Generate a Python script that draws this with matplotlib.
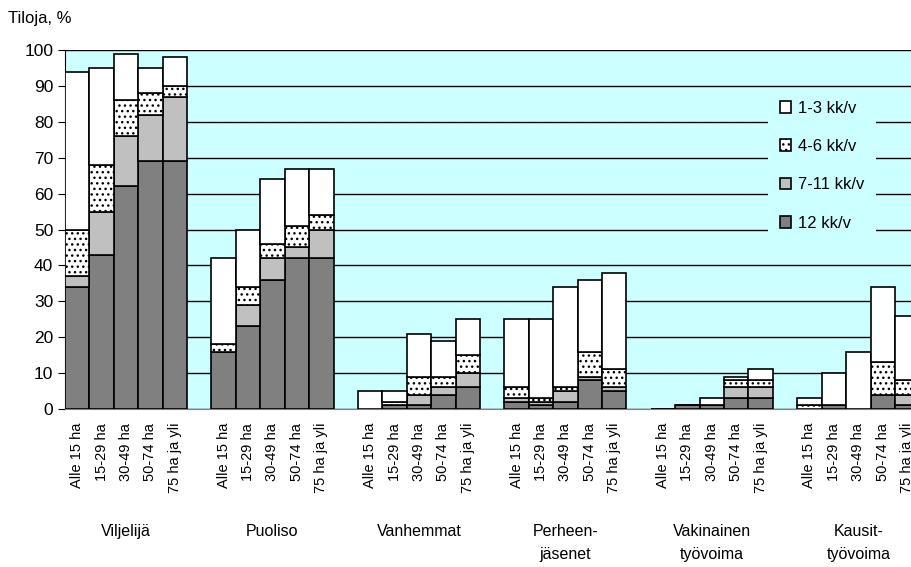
import matplotlib.pyplot as plt

plt.rcParams['font.family'] = ['Liberation Sans', 'DejaVu Sans']
plt.rcParams['hatch.linewidth'] = 1.0

ryhmat = ['Viljelijä', 'Puoliso', 'Vanhemmat', 'Perheen-\njäsenet',
          'Vakinainen\ntyövoima', 'Kausit-\ntyövoima']
koot = ['Alle 15 ha', '15-29 ha', '30-49 ha', '50-74 ha', '75 ha ja yli']

# arvot ryhmittain, 5 tilakokoluokkaa kussakin
kk12 = [34, 43, 62, 69, 69,
        16, 23, 36, 42, 42,
        0, 1, 1, 4, 6,
        2, 1, 2, 8, 5,
        0, 1, 1, 3, 3,
        0, 1, 0, 4, 1]
kk7_11 = [3, 12, 14, 13, 18,
          0, 6, 6, 3, 8,
          0, 0, 3, 2, 4,
          1, 1, 3, 1, 1,
          0, 0, 0, 3, 3,
          0, 0, 0, 0, 3]
kk4_6 = [13, 13, 10, 6, 3,
         2, 5, 4, 6, 4,
         0, 1, 5, 3, 5,
         3, 1, 1, 7, 5,
         0, 0, 0, 2, 2,
         1, 0, 0, 9, 4]
kk1_3 = [44, 27, 13, 7, 8,
         24, 16, 18, 16, 13,
         5, 3, 12, 10, 10,
         19, 22, 28, 20, 27,
         0, 0, 2, 1, 3,
         2, 9, 16, 21, 18]

# x-paikat: 5 pylvästä ja yksi väli ryhmien välissä
x = []
for g in range(len(ryhmat)):
    for b in range(len(koot)):
        x.append(g * 6 + b)

fig = plt.figure(figsize=(9.12, 5.67), dpi=100)
ax = fig.add_axes([0.0713, 0.2787, 0.9287, 0.633])
ax.set_facecolor('#CCFFFF')

pohja = [0] * len(x)
sarjat = [(kk12, '12 kk/v', '#808080', None),
          (kk7_11, '7-11 kk/v', '#C0C0C0', None),
          (kk4_6, '4-6 kk/v', 'white', '...'),
          (kk1_3, '1-3 kk/v', 'white', None)]
kahvat = []
for arvot, nimi, vari, hatch in sarjat:
    b = ax.bar(x, arvot, width=1.0, bottom=pohja, color=vari, edgecolor='black',
               linewidth=1.2, hatch=hatch, label=nimi, zorder=3)
    kahvat.append(b)
    pohja = [p + a for p, a in zip(pohja, arvot)]

ax.set_ylim(0, 100)
ax.set_xlim(-0.5, 34.2)
ax.set_yticks(range(0, 101, 10))
ax.yaxis.grid(True, color='black', linewidth=1.0, zorder=0)
ax.tick_params(axis='y', labelsize=12.5, length=5, direction='out')
ax.set_xticks(x)
ax.set_xticklabels(koot * len(ryhmat), rotation=90, fontsize=10.5)
ax.tick_params(axis='x', length=0, pad=10)
for s in ['top', 'right']:
    ax.spines[s].set_visible(False)
ax.spines['bottom'].set_color('#808080')

for g, nimi in enumerate(ryhmat):
    ax.text(g * 6 + 2, -0.32, nimi, transform=ax.get_xaxis_transform(),
            ha='center', va='top', fontsize=11.5, linespacing=1.65)

fig.text(0.009, 0.968, 'Tiloja, %', fontsize=12, va='center')

leg = ax.legend(handles=kahvat[::-1], loc='upper left',
                bbox_to_anchor=(0.82, 0.915), fontsize=12, frameon=True,
                facecolor='#CCFFFF', edgecolor='none', framealpha=1,
                handlelength=0.7, handleheight=0.7, labelspacing=1.4,
                handletextpad=0.4, borderpad=0.7)

fig.savefig('out.png', dpi=100)
